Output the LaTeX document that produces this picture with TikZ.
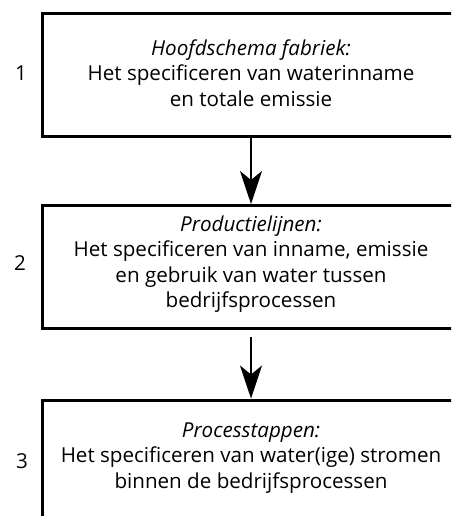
\documentclass[tikz,border=0pt]{standalone}
\usepackage{fontspec}
\setmainfont{Open Sans}
\usetikzlibrary{arrows.meta}
\begin{document}
\begin{tikzpicture}[x=1pt,y=1pt,
  box/.style={draw, line width=3pt, minimum width=418pt, inner sep=0pt},
  label/.style={align=center, font=\fontsize{20.6}{25.5}\selectfont, inner sep=0pt},
  num/.style={font=\fontsize{20.6}{25.5}\selectfont, inner sep=0pt},
  flow/.style={line width=2pt, -{Stealth[length=33pt, width=22pt, inset=9pt]}}]
\clip (0,0) rectangle (451,-516);
% level boxes
\node[box, minimum height=123pt] (b1) at (251,-75) {};
\node[box, minimum height=123pt] (b2) at (251,-267) {};
\node[box, minimum height=140pt] (b3) at (251,-470) {};
% box texts
\node[label] (t1) at (251,-73) {\textit{Hoofdschema fabriek:}\\Het specificeren van waterinname\\en totale emissie};
\node[label] (t2) at (251,-264) {\textit{Productielijnen:}\\Het specificeren van inname, emissie\\en gebruik van water tussen\\bedrijfsprocessen};
\node[label] (t3) at (251,-458) {\textit{Processtappen:}\\Het specificeren van water(ige) stromen\\binnen de bedrijfsprocessen};
% level numbers
\node[num] (n1) at (21,-73) {1};
\node[num] (n2) at (20,-263) {2};
\node[num] (n3) at (22,-461) {3};
% connectors
\coordinate (s2) at ([yshift=-7pt]b2.south);
\draw[flow] (b1.south) -- (b2.north);
\draw[flow] (s2) -- (b3.north);
\end{tikzpicture}
\end{document}
